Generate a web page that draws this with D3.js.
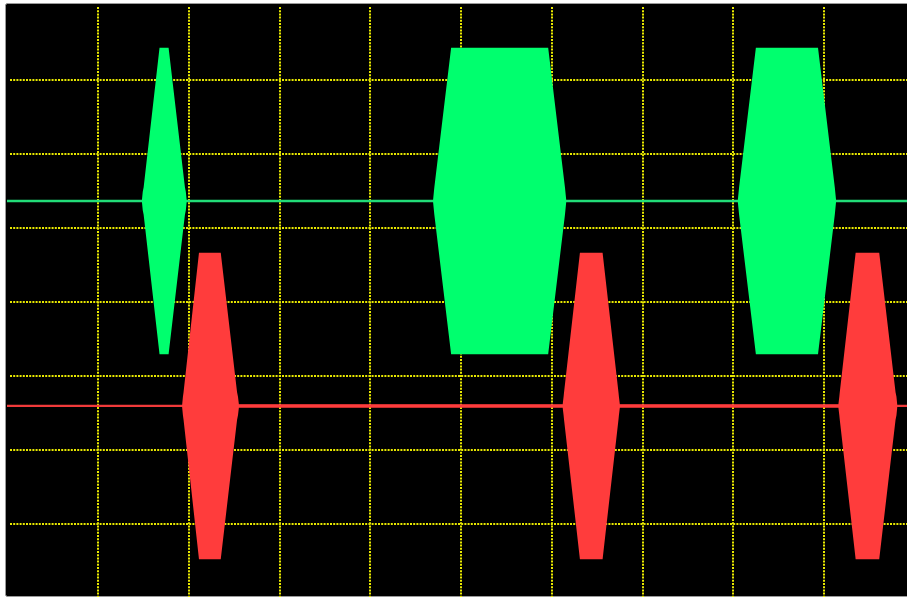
<!DOCTYPE html>
<html>
<head>
<meta charset="utf-8">
<script src="https://cdn.jsdelivr.net/npm/d3@7"></script>
<style>
html,body{margin:0;padding:0;background:#fff;overflow:hidden;}
svg{display:block;}
</style>
</head>
<body>
<svg id="chart" width="907" height="600"></svg>
<script>
// Time axis in grid units (10 units = 1 division), 10 divisions
const xTicks = [0,10,20,30,40,50,60,70,80,90,100];
// Vertical axis in divisions, 8 divisions
const yTicks = [-4,-3,-2,-1,0,1,2,3,4];

// Channel 1 (green) envelope: time and relative amplitude
const greenT = [0,14.8,14.9,15.0,16.75,17.75,19.55,19.65,19.75,
                46.9,47.0,47.05,48.9,59.6,61.45,61.5,61.6,
                80.5,80.6,80.65,82.5,89.35,91.2,91.25,91.35,100];
const greenA = [0,0,0.06,0.09,1,1,0.09,0.06,0,
                0,0.06,0.09,1,1,0.09,0.06,0,
                0,0.06,0.09,1,1,0.09,0.06,0,0];
// Channel 2 (red) envelope
const redT = [0,19.23,19.33,19.4,21.1,23.5,25.3,25.4,25.5,
              61.2,61.3,61.35,63.1,65.6,67.35,67.4,67.5,
              91.6,91.7,91.75,93.5,96.1,97.9,98.0,98.1,100];
const redA = [0,0,0.06,0.09,1,1,0.09,0.06,0.012,
              0.012,0.06,0.09,1,1,0.09,0.06,0.012,
              0.012,0.06,0.09,1,1,0.09,0.06,0,0];

const greenOffset = 1.365, redOffset = -1.405, amplitude = 2.07;

const svg = d3.select("#chart");
const x = d3.scaleLinear().domain([0,100]).range([7.6, 914.6]);
const y = d3.scaleLinear().domain([-4,4]).range([598, 6]);

svg.append("rect").attr("x",5.5).attr("y",3.5).attr("width",920).attr("height",593)
  .attr("rx",2).attr("fill","#000").attr("stroke","#9a9a9a").attr("stroke-width",1);

const grid = svg.append("g");
grid.selectAll("line.v").data(xTicks.slice(1,-1)).join("line")
  .attr("x1",d=>Math.round(x(d))).attr("x2",d=>Math.round(x(d)))
  .attr("y1",7).attr("y2",597)
  .attr("stroke","#e8e800").attr("stroke-width",2).attr("stroke-dasharray","2,1.2");
grid.selectAll("line.h").data(yTicks.slice(1,-1)).join("line")
  .attr("y1",d=>Math.round(y(d))).attr("y2",d=>Math.round(y(d)))
  .attr("x1",10).attr("x2",907)
  .attr("stroke","#e8e800").attr("stroke-width",2).attr("stroke-dasharray","2,1.2");

function drawChannel(T, A, off, fill, lineColor, lw){
  const data = T.map((t,i)=>({t, a:A[i]}));
  const area = d3.area().x(d=>x(d.t))
    .y0(d=>y(off - d.a*amplitude)).y1(d=>y(off + d.a*amplitude));
  svg.append("line").attr("x1",7).attr("x2",907)
    .attr("y1",y(off)).attr("y2",y(off))
    .attr("stroke",lineColor).attr("stroke-width",lw);
  svg.append("path").datum(data).attr("d",area).attr("fill",fill);
}
drawChannel(greenT, greenA, greenOffset, "#00ff6e", "#22dc78", 2.5);
drawChannel(redT, redA, redOffset, "#ff3c3c", "#f03a3a", 2.2);
</script>
</body>
</html>
